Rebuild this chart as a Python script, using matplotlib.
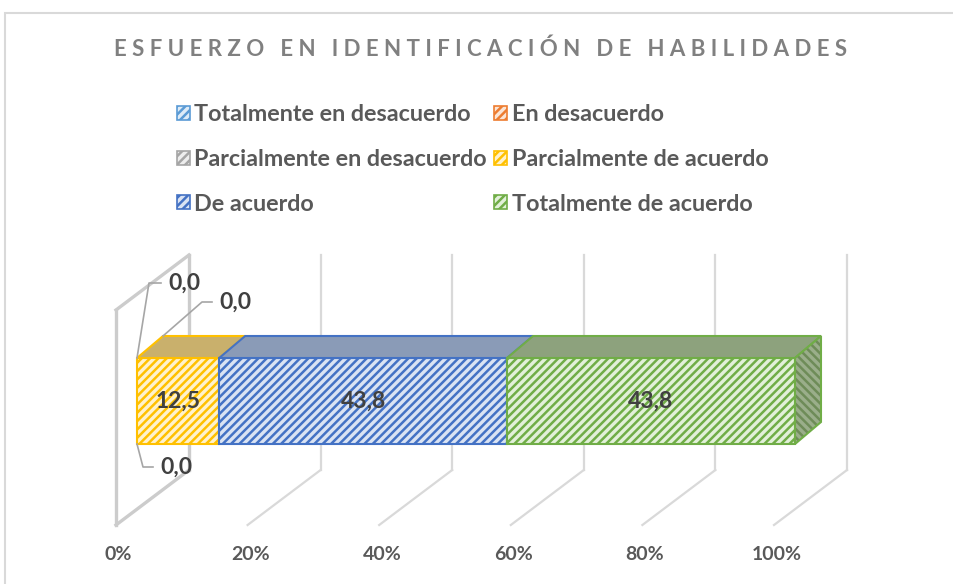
import matplotlib
matplotlib.use('Agg')
import matplotlib.pyplot as plt
from matplotlib.patches import Patch, Polygon, Rectangle
import numpy as np

# data
categories = ['Totalmente en desacuerdo', 'En desacuerdo', 'Parcialmente en desacuerdo',
              'Parcialmente de acuerdo', 'De acuerdo', 'Totalmente de acuerdo']
values = [0.0, 0.0, 0.0, 12.5, 43.8, 43.8]
ticks = [0, 20, 40, 60, 80, 100]
tick_labels = ['0%', '20%', '40%', '60%', '80%', '100%']
title = 'ESFUERZO EN IDENTIFICACIÓN DE HABILIDADES'

# styles
colors = ['#5B9BD5', '#ED7D31', '#A5A5A5', '#FFC000', '#4472C4', '#70AD47']
light_colors = ['#deebf7', '#fbe5d6', '#ededed', '#fff2cc', '#dae3f3', '#e2f0d9']
top_colors = ['#8fa9c4', '#c99a7a', '#b0b0b0', '#c9b06c', '#8a9bb7', '#8da27d']

plt.rcParams['font.family'] = ['Lato', 'DejaVu Sans']
plt.rcParams['font.weight'] = 'bold'
plt.rcParams['hatch.linewidth'] = 1.8

W, H = 954, 584
X0, SX = 116, 6.58           # pixel of 0 % on the front plane, pixels per %
DX, DY = 73 / SX, -55        # depth of the wall
FLOOR, CEIL = 525, 310       # front plane floor / top
BAR_SHIFT = 21 / SX          # front face of the bar sits a bit into the depth
BAR_TOP, BAR_BOT = 358, 444
BDX, BDY = 26 / SX, -22      # bar depth

fig = plt.figure(figsize=(W / 100, H / 100), dpi=100)
ax = fig.add_axes([0, 0, 1, 1])
ax.set_xlim(-X0 / SX, (W - X0) / SX)
ax.set_ylim(H, 0)
ax.axis('off')

# chart border (only top and left are inside the picture)
fig.patches.append(Rectangle((5 / W, -0.1), 1.2, 1 - 13 / H + 0.1, fill=False,
                             edgecolor='#d9d9d9', lw=1.5, transform=fig.transFigure))

# gridlines on back wall + floor
grid_c = '#d9d9d9'
for t in ticks:
    c, lw = (grid_c, 1.6) if t else ('#cccccc', 2.4)
    ax.plot([t + DX, t + DX], [CEIL + DY, FLOOR + DY], color=c, lw=lw, zorder=1)
    ax.plot([t, t + DX], [FLOOR, FLOOR + DY], color=c, lw=lw, zorder=1)
# left side wall
ax.plot([0, 0], [FLOOR, CEIL], color='#cccccc', lw=2.4, zorder=1)
ax.plot([0, DX], [CEIL, CEIL + DY], color='#cccccc', lw=2.4, zorder=1)

for t, lab in zip(ticks, tick_labels):
    ax.text(t + 0.4, 555, lab, ha='center', va='center', fontsize=14,
            color='#595959')

# stacked bar (100 %)
shares = np.array(values) / sum(values) * 100
lefts = np.concatenate([[0], np.cumsum(shares)[:-1]])
bar_y = (BAR_TOP + BAR_BOT) / 2
last = max(i for i, s in enumerate(shares) if s > 0)
for i, (s, l) in enumerate(zip(shares, lefts)):
    if s <= 0:
        continue
    x = l + BAR_SHIFT
    ax.barh(bar_y, s, left=x, height=BAR_BOT - BAR_TOP, color=light_colors[i],
            edgecolor=colors[i], hatch='////', lw=1.5, zorder=3)
    top = [(x, BAR_TOP), (x + s, BAR_TOP), (x + s + BDX, BAR_TOP + BDY), (x + BDX, BAR_TOP + BDY)]
    ax.add_patch(Polygon(top, closed=True, facecolor=top_colors[i], edgecolor=colors[i],
                         lw=1.5, zorder=3))
    if i == last:
        side = [(x + s, BAR_TOP), (x + s + BDX, BAR_TOP + BDY),
                (x + s + BDX, BAR_BOT + BDY), (x + s, BAR_BOT)]
        ax.add_patch(Polygon(side, closed=True, facecolor='#9aae8a', edgecolor='#6e8c58',
                             hatch='\\\\\\\\', lw=0, zorder=3))
        ax.add_patch(Polygon(side, closed=True, fill=False, edgecolor=colors[i],
                             lw=1.5, zorder=3))
    ax.text(x + s / 2, bar_y, f'{values[i]:.1f}'.replace('.', ','), ha='center',
            va='center', fontsize=16.5, color='#404040', zorder=4)

# labels of the zero segments with leader lines
x0 = BAR_SHIFT
anchors = [((x0, BAR_TOP), (12, -75), 12),
           ((x0 + BDX, BAR_TOP + BDY), (39, -34), 10),
           ((x0, BAR_BOT), (6, 23), 10)]
zero_idx = [i for i, s in enumerate(shares) if s <= 0]
for i, (anc, (ex, ey), hx) in zip(zero_idx, anchors):
    ax_, ay = anc
    elbow = (ax_ + ex / SX, ay + ey)
    end = (elbow[0] + hx / SX, elbow[1])
    ax.plot([ax_, elbow[0], end[0]], [ay, elbow[1], end[1]], color='#a6a6a6', lw=1.2, zorder=4)
    ax.text(end[0] + 7 / SX, end[1], f'{values[i]:.1f}'.replace('.', ','), ha='left',
            va='center', fontsize=16.5, color='#404040', zorder=4)

# title with letter spacing
spaced = '   '.join(' '.join(w) for w in title.split(' '))
fig.text(481 / W, 1 - 49 / H, spaced, ha='center', va='center', fontsize=16,
         color='#808080')

# legend (row-wise order, matplotlib fills column-wise)
handles = [Patch(facecolor=light_colors[i], edgecolor=colors[i], hatch='////', lw=1.2,
                 label=categories[i]) for i in range(len(categories))]
order = [0, 2, 4, 1, 3, 5]
fig.legend([handles[i] for i in order], [categories[i] for i in order],
           ncol=2, loc='upper left', bbox_to_anchor=(177 / W, 1 - 104 / H),
           frameon=False, fontsize=16.8, labelcolor='#595959', handlelength=0.55,
           handleheight=0.55, handletextpad=0.2, columnspacing=0.3, labelspacing=1.02,
           borderpad=0, borderaxespad=0)

fig.savefig('out.png', dpi=100)
